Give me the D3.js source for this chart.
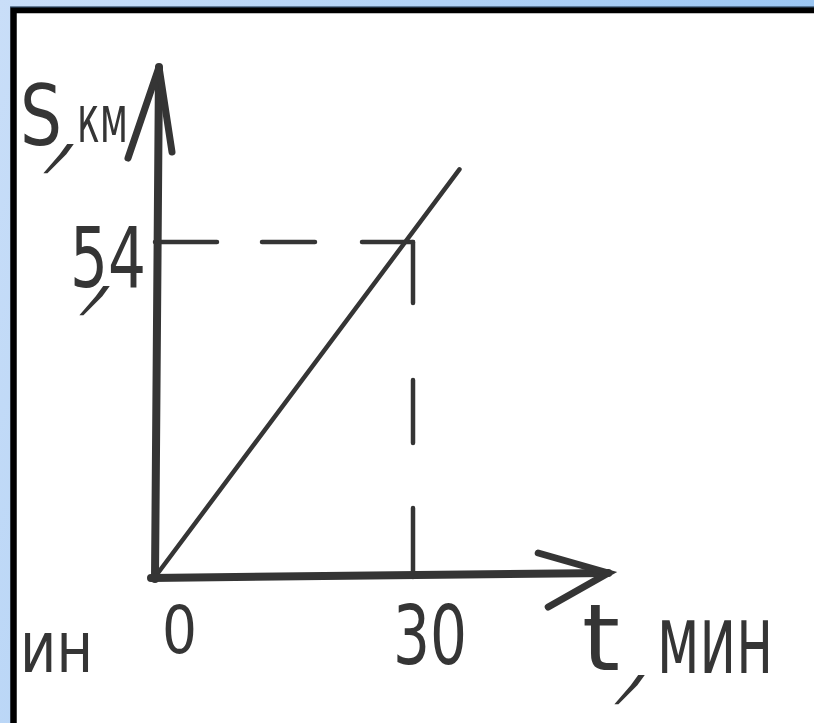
<!DOCTYPE html>
<html>
<head>
<meta charset="utf-8">
<script src="https://cdn.jsdelivr.net/npm/d3@7"></script>
<style>
  html, body { margin: 0; padding: 0; background: #fff; }
  svg { display: block; }
</style>
</head>
<body>
<div id="chart"></div>
<script>
// Values
const timeTicks = [0, 30];          // t, мин
const distTicks = [54];             // S, км
const linePoints = [[0, 0], [35.4, 65.7]];   // S(t) line, drawn a bit past the marked point
const guidePoint = [30, 54];        // point marked by dashed lines
const axisEnds = { t: 52.7, s: 82.2 };

const width = 814;
const height = 723;
const ink = "#353535";

const svg = d3.select("#chart")
    .append("svg")
    .attr("width", width)
    .attr("height", height);

// Blue slide frame
const defs = svg.append("defs");
const grad = defs.append("linearGradient")
    .attr("id", "frame")
    .attr("x1", "0%").attr("y1", "0%")
    .attr("x2", "100%").attr("y2", "30%");
grad.append("stop").attr("offset", "0%").attr("stop-color", "#c9def8");
grad.append("stop").attr("offset", "100%").attr("stop-color", "#97c4f2");

svg.append("rect")
    .attr("width", width).attr("height", height)
    .attr("fill", "url(#frame)");

svg.append("rect")
    .attr("x", 13.5).attr("y", 10)
    .attr("width", width + 20).attr("height", height + 20)
    .attr("fill", "#fff")
    .attr("stroke", "#000")
    .attr("stroke-width", 6.5);

svg.append("line")
    .attr("x1", 10).attr("x2", width)
    .attr("y1", 7).attr("y2", 7)
    .attr("stroke", "#3b5878").attr("stroke-width", 1);

// Scales
const x = d3.scaleLinear().domain([0, 30]).range([155, 413]);
const y = d3.scaleLinear().domain([0, 54]).range([577, 242]);

const g = svg.append("g")
    .attr("stroke", ink)
    .attr("stroke-linecap", "round")
    .attr("fill", "none");

// Dashed guide lines
g.append("path")
    .attr("d", `M${x(0)},${y(guidePoint[1])} H${x(guidePoint[0])}`)
    .attr("stroke-width", 4.5)
    .attr("stroke-dasharray", "62 45 53 47 51");

g.append("path")
    .attr("d", `M${x(guidePoint[0])},${y(guidePoint[1])} V${y(0)}`)
    .attr("stroke-width", 4.5)
    .attr("stroke-dasharray", "61 77 63 65 70");

// S(t) line
g.append("path")
    .datum(linePoints)
    .attr("d", d3.line().x(d => x(d[0])).y(d => y(d[1])))
    .attr("stroke-width", 4.5);

// Axes
g.append("path")
    .attr("d", `M${x(0)},${y(0) + 2} L${x(0) + 4},${y(axisEnds.s)}`)
    .attr("stroke-width", 8);
g.append("path")
    .attr("d", `M${x(0) - 27},${y(axisEnds.s) + 91} L${x(0) + 4},${y(axisEnds.s)} L${x(0) + 17},${y(axisEnds.s) + 85}`)
    .attr("stroke-width", 7)
    .attr("stroke-linejoin", "miter");

g.append("path")
    .attr("d", `M${x(0) - 4},${y(0) + 1} L${x(axisEnds.t)},${y(0) - 4}`)
    .attr("stroke-width", 8);
g.append("path")
    .attr("d", `M${x(axisEnds.t) - 70},${y(0) - 24} L${x(axisEnds.t)},${y(0) - 4} L${x(axisEnds.t) - 60},${y(0) + 30}`)
    .attr("stroke-width", 7)
    .attr("stroke-linejoin", "miter");

// Text helper: font size sets the height, a horizontal scale sets the width
const label = (txt, px, py, size, len) => {
    const t = svg.append("text")
        .attr("font-family", "DejaVu Sans")
        .attr("font-size", size)
        .attr("fill", ink)
        .text(txt);
    const w = t.node().getComputedTextLength();
    const sx = len && w ? len / w : 1;
    t.attr("transform", `translate(${px},${py}) scale(${sx},1)`);
    return t;
};

// Hand-drawn comma: a long slanted stroke
const comma = (cx, cy) => {
    svg.append("text")
        .attr("transform", `translate(${cx},${cy}) skewX(-36) scale(1.1,2.1)`)
        .attr("text-anchor", "middle")
        .attr("y", 2)
        .attr("font-family", "DejaVu Sans")
        .attr("font-size", 58)
        .attr("fill", ink)
        .text(",");
};

// Tick labels
timeTicks.forEach(v => {
    if (v === 0) label(String(v), x(v) + 7, 653, 66, 35);
    else label(String(v), x(v) - 20, 664, 82, 74);
});
distTicks.forEach(v => {
    label(String(v), 70, y(v) + 45, 84, 76);
    comma(98, y(v) + 55);
});

// Axis titles
label("S", 20, 145, 84, 42);
comma(62, 155);
label("км", 77, 142, 66, 51);

label("t", 582, 670, 92, 38);
comma(633, 686);
label("мин", 657, 673, 96, 116);

// Cut-off word at the left edge
label("ин", 20, 672, 72, 73);
</script>
</body>
</html>
